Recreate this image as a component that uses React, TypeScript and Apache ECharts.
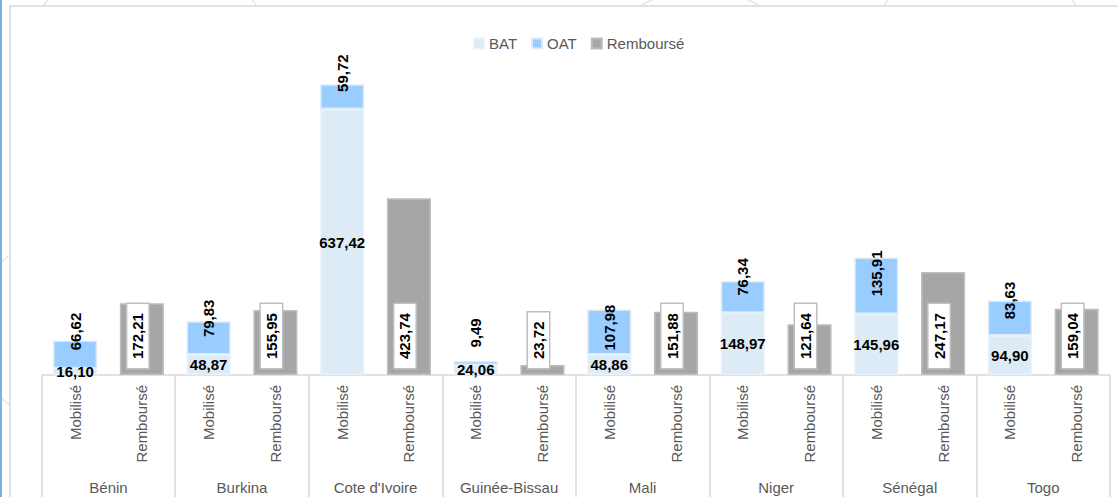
import React, { useEffect, useRef } from "react";
import * as echarts from "echarts";

const countries = ["Bénin", "Burkina", "Cote d'Ivoire", "Guinée-Bissau", "Mali", "Niger", "Sénégal", "Togo"];
const subCategories = ["Mobilisé", "Remboursé"];
const batValues = [16.1, 48.87, 637.42, 24.06, 48.86, 148.97, 145.96, 94.9];
const oatValues = [66.62, 79.83, 59.72, 9.49, 107.98, 76.34, 135.91, 83.63];
const rembValues = [172.21, 155.95, 423.74, 23.72, 151.88, 121.64, 247.17, 159.04];
const seriesNames = ["BAT", "OAT", "Remboursé"];

// label nudges (style only, in pixels) for the OAT labels, as placed in the original
const OAT_LABEL_SHIFT = [9, 3, 11, 28, -18, 4, -16, 0];

const FONT = "'Liberation Sans', Arial, sans-serif";
const fmt = (v: number) => v.toFixed(2).replace(".", ",");

export default function App() {
  const ref = useRef<HTMLDivElement>(null);
  useEffect(() => {
    if (!ref.current) return;
    const chart = echarts.init(ref.current, null, { renderer: "svg" });
    const subLabels = countries.flatMap(() => subCategories);
    const batData: any[] = [];
    const oatData: any[] = [];
    const rembData: any[] = [];
    countries.forEach((_, i) => {
      batData.push(batValues[i], "-");
      oatData.push(
        { value: oatValues[i], label: { offset: [OAT_LABEL_SHIFT[i], 0] } },
        "-"
      );
      rembData.push("-", rembValues[i]);
    });
    const boldLabel = {
      show: true,
      color: "#000",
      fontWeight: "bold" as const,
      fontSize: 15,
      fontFamily: FONT,
      formatter: (p: any) => fmt(typeof p.value === "number" ? p.value : p.value.value ?? p.value),
    };
    chart.setOption({
      animation: false,
      backgroundColor: "#fff",
      textStyle: { fontFamily: FONT },
      graphic: [
        { type: "circle", silent: true, z: -20, shape: { cx: 150, cy: 80, r: 130 }, style: { fill: "none", stroke: "#E6E6E6", lineWidth: 1.5 } },
        { type: "circle", silent: true, z: -20, shape: { cx: 700, cy: 110, r: 120 }, style: { fill: "none", stroke: "#E6E6E6", lineWidth: 1.5 } },
        { type: "circle", silent: true, z: -20, shape: { cx: 980, cy: 60, r: 110 }, style: { fill: "none", stroke: "#E6E6E6", lineWidth: 1.5 } },
        { type: "circle", silent: true, z: -20, shape: { cx: 60, cy: 330, r: 90 }, style: { fill: "none", stroke: "#E6E6E6", lineWidth: 1.5 } },
        { type: "rect", silent: true, z: -10, shape: { x: 10, y: 6, width: 1130, height: 520 }, style: { fill: "#fff", stroke: "#D9D9D9", lineWidth: 1.5 } },
        { type: "rect", silent: true, z: 10, shape: { x: 0, y: 0, width: 2, height: 497 }, style: { fill: "#7DB0E3" } },
      ],
      legend: {
        data: seriesNames,
        left: 468,
        top: 31,
        icon: "rect",
        itemWidth: 10,
        itemHeight: 10,
        itemGap: 14,
        textStyle: { color: "#595959", fontSize: 15, fontFamily: FONT },
      },
      grid: { left: 41.7, right: 8, top: 10, bottom: 122 },
      xAxis: [
        {
          type: "category",
          data: subLabels,
          position: "bottom",
          axisLine: { show: true, lineStyle: { color: "#D9D9D9", width: 1.5 } },
          axisTick: { show: false },
          axisLabel: { interval: 0, rotate: 90, margin: 10, color: "#595959", fontSize: 15, fontFamily: FONT },
        },
        {
          type: "category",
          data: countries,
          position: "bottom",
          offset: 122,
          axisLine: { show: false },
          axisTick: { show: true, inside: true, length: 122, lineStyle: { color: "#D9D9D9", width: 1.5 } },
          axisLabel: { inside: true, margin: 2, interval: 0, color: "#595959", fontSize: 15, fontFamily: FONT },
        },
      ],
      yAxis: {
        type: "value",
        min: 0,
        max: 875,
        show: false,
        splitLine: { show: false },
      },
      series: [
        {
          name: "BAT",
          type: "bar",
          stack: "a",
          xAxisIndex: 0,
          barWidth: "66%",
          data: batData,
          itemStyle: { color: "#DDEBF7", borderColor: "#E8F1FA", borderWidth: 1.5 },
          label: { ...boldLabel, position: "inside" },
        },
        {
          name: "OAT",
          type: "bar",
          stack: "a",
          xAxisIndex: 0,
          data: oatData,
          itemStyle: { color: "#99CCFF", borderColor: "#DDEBF7", borderWidth: 1.5 },
          label: { ...boldLabel, position: "top", distance: 0, rotate: 90, align: "center", verticalAlign: "middle" },
        },
        {
          name: "Remboursé",
          type: "bar",
          stack: "a",
          xAxisIndex: 0,
          data: rembData,
          itemStyle: { color: "#A6A6A6", borderColor: "#BDBDBD", borderWidth: 1.5 },
          label: {
            ...boldLabel,
            position: "insideBottom",
            distance: 7,
            rotate: 90,
            align: "left",
            verticalAlign: "middle",
            offset: [0, -4],
            backgroundColor: "#fff",
            borderColor: "#BFBFBF",
            borderWidth: 1.5,
            padding: [2, 9],
            lineHeight: 17,
          },
        },
      ],
    });
    return () => chart.dispose();
  }, []);
  return (
    <div
      ref={ref}
      style={{ position: "fixed", left: 0, top: 0, width: 1118, height: 497 }}
    />
  );
}
